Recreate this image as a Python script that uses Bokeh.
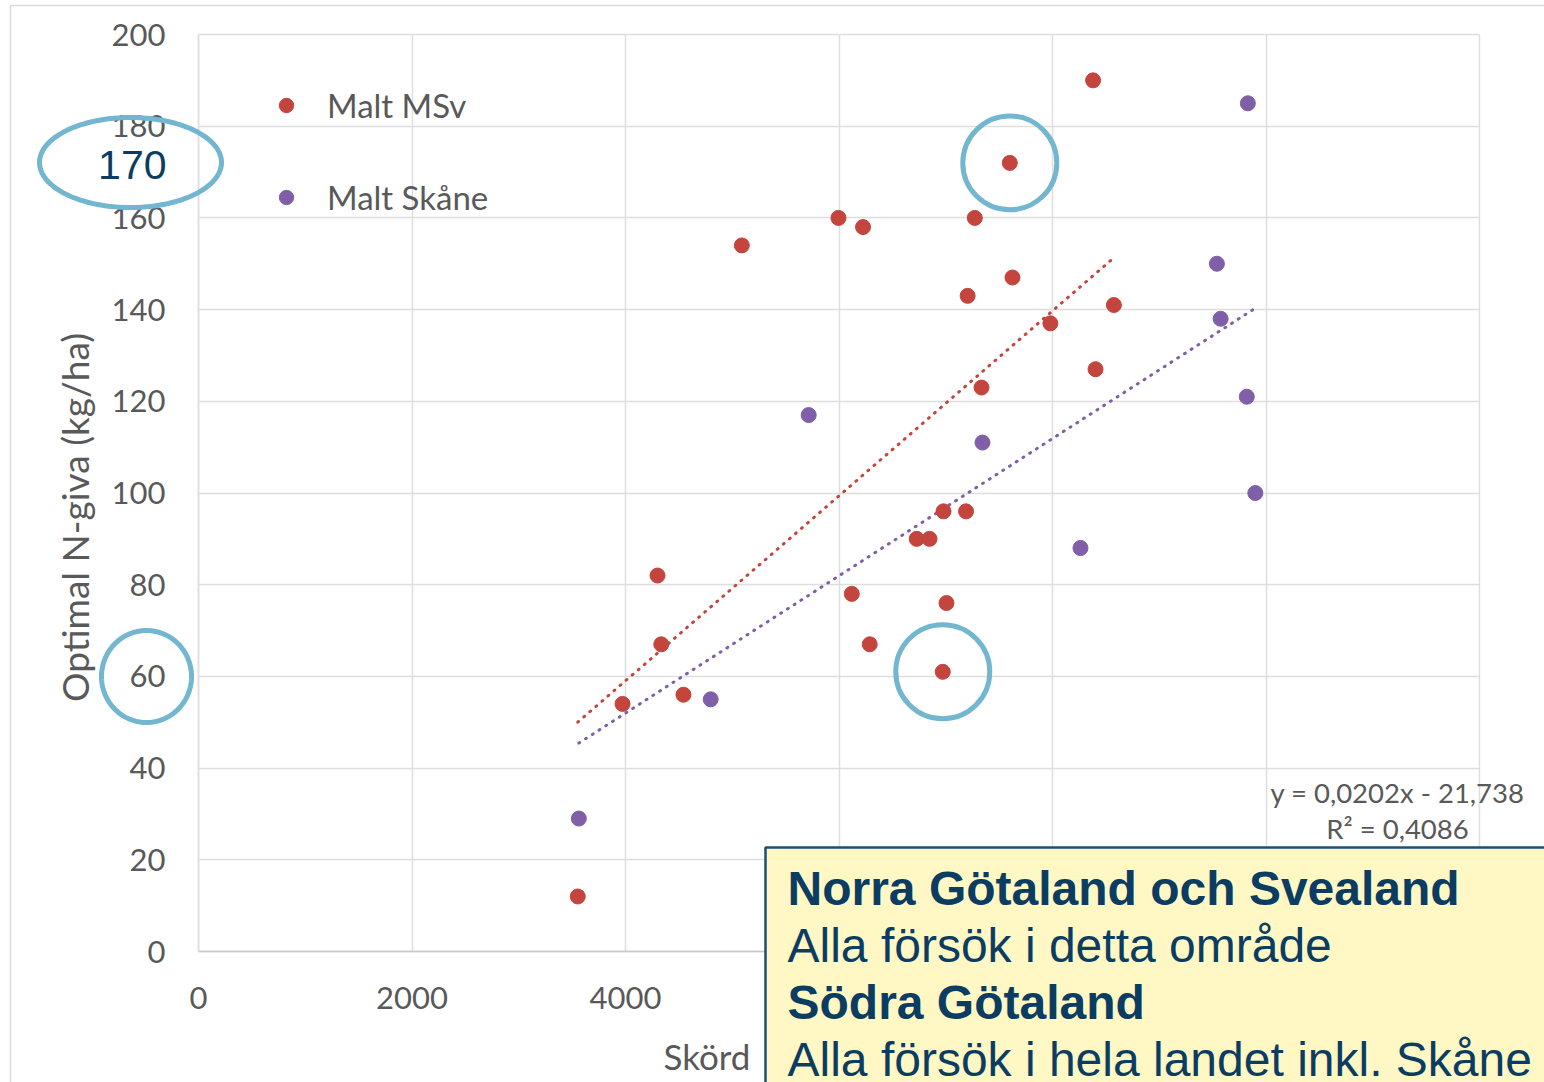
import numpy as np
from bokeh.plotting import figure
from bokeh.models import (Range1d, Label, BoxAnnotation, PolyAnnotation, Legend,
                          LegendItem, FixedTicker)
from bokeh.embed import file_html
from bokeh.resources import INLINE

# ---------------- data ----------------
x_ticks = [0, 2000, 4000, 6000, 8000, 10000, 12000]
y_ticks = [0, 20, 40, 60, 80, 100, 120, 140, 160, 180, 200]

msv_x = [8380, 7600, 5995, 6225, 5090, 7272, 7625, 7205, 8575, 7980, 7335, 8403, 6979,
         7190, 6728, 6848, 4300, 6120, 7007, 4335, 6288, 6972, 4543, 3972, 3553]
msv_y = [190, 172, 160, 158, 154, 160, 147, 143, 141, 137, 123, 127, 96,
         96, 90, 90, 82, 78, 76, 67, 67, 61, 56, 54, 12]

skane_x = [9830, 9540, 9575, 9820, 9900, 8262, 5716, 7344, 4798, 3563]
skane_y = [185, 150, 138, 121, 100, 88, 117, 111, 55, 29]

highlight_idx = [1, 21]          # circled MSv points (172 and 61)

series_names = ["Malt MSv", "Malt Skåne"]
y_title = "Optimal N-giva (kg/ha)"
x_title = "Skörd"
equation_lines = ["y = 0,0202x - 21,738", "R² = 0,4086"]
box_lines = [("Norra Götaland och Svealand", "bold"),
             ("Alla försök i detta område", "normal"),
             ("Södra Götaland", "bold"),
             ("Alla försök i hela landet inkl. Skåne", "normal")]

# ---------------- styling ----------------
RED = "#c4453e"
PURPLE = "#7e5fa8"
HL = "#72b6cf"
GRID = "#dedede"
TXT = "#595959"
NAVY = "#0b3d63"

W, H = 1544, 1082
# plot area in page pixels
PX0, PX1, PY0, PY1 = 198, 1479, 951, 34      # x=0, x=12000, y=0, y=200
XMAX, YMAX = 12000, 200
kx = (PX1 - PX0) / XMAX
ky = (PY0 - PY1) / YMAX

p = figure(width=W, height=H, output_backend="svg", toolbar_location=None,
           x_range=Range1d(-PX0 / kx, XMAX + (W - PX1) / kx),
           y_range=Range1d(-(H - PY0) / ky, YMAX + PY1 / ky),
           min_border=0)
p.outline_line_color = None
p.background_fill_color = "white"
p.border_fill_color = "white"

# axes drawn at fixed data locations inside the frame
p.xaxis.fixed_location = 0
p.yaxis.fixed_location = 0
p.xaxis.bounds = (0, XMAX)
p.yaxis.bounds = (0, YMAX)
p.xaxis.ticker = FixedTicker(ticks=x_ticks)
p.yaxis.ticker = FixedTicker(ticks=y_ticks)
for ax in (p.xaxis[0], p.yaxis[0]):
    ax.major_tick_line_color = None
    ax.minor_tick_line_color = None
    ax.major_label_text_font = "Lato"
    ax.major_label_text_font_size = "31px"
    ax.major_label_text_color = TXT
p.xaxis.axis_line_color = "#c8c8c8"
p.xaxis.axis_line_width = 1.5
p.yaxis.axis_line_color = GRID
p.yaxis.axis_line_width = 1.5
p.xaxis.major_label_standoff = 29
p.yaxis.major_label_standoff = 27

p.xgrid.ticker = FixedTicker(ticks=x_ticks)
p.ygrid.ticker = FixedTicker(ticks=y_ticks)
p.grid.grid_line_color = GRID
p.grid.grid_line_width = 1.5
p.xgrid.bounds = (0, XMAX)
p.ygrid.bounds = (0, YMAX)
p.xgrid.cross_bounds = (0, YMAX)
p.ygrid.cross_bounds = (0, XMAX)

def sx(px):   # page x -> screen x of frame
    return px

def sy(py):   # page y -> screen y of frame (upwards)
    return H - py

# outer chart-area border
p.add_layout(BoxAnnotation(left=sx(10), right=sx(3000), top=sy(5), bottom=sy(3000),
                           left_units="screen", right_units="screen",
                           top_units="screen", bottom_units="screen",
                           fill_alpha=0, line_color="#d9d9d9", line_alpha=1,
                           line_width=1.5, level="underlay"))

# ---------------- trend lines ----------------
for xs, ys, c in ((msv_x, msv_y, RED), (skane_x, skane_y, PURPLE)):
    k, b = np.polyfit(xs, ys, 1)
    xx = np.array([min(xs), max(xs)], dtype=float)
    p.line(xx, k * xx + b, line_color=c, line_width=3, line_dash="1 7",
           line_cap="round")

# ---------------- points ----------------
r1 = p.scatter(msv_x, msv_y, size=15, fill_color=RED, line_color=RED)
r2 = p.scatter(skane_x, skane_y, size=15, fill_color=PURPLE, line_color=PURPLE)

# highlight circles around two MSv points
p.scatter([msv_x[i] for i in highlight_idx], [msv_y[i] for i in highlight_idx],
          size=94, fill_color=None, line_color=HL, line_width=5)

legend = Legend(items=[LegendItem(label=series_names[0], renderers=[r1]),
                       LegendItem(label=series_names[1], renderers=[r2])],
                location=(sx(268), sy(217)), margin=0, padding=0,
                glyph_width=36, glyph_height=36, label_height=36,
                label_standoff=23, spacing=52,
                background_fill_alpha=0, border_line_color=None,
                label_text_font="Lato", label_text_font_size="33px",
                label_text_color=TXT)
p.add_layout(legend)

# ---------------- annotations ----------------
p.add_layout(Label(x=sx(74), y=sy(517), x_units="screen", y_units="screen",
                   text=y_title, angle=np.pi / 2,
                   text_align="center", text_baseline="middle",
                   text_font="Lato", text_font_size="37px", text_color=TXT))

p.add_layout(Label(x=sx(663), y=sy(1055), x_units="screen", y_units="screen",
                   text=x_title, text_align="left", text_baseline="middle",
                   text_font="Lato", text_font_size="35px", text_color=TXT))

p.add_layout(Label(x=sx(1397), y=sy(792), x_units="screen", y_units="screen",
                   text=equation_lines[0], text_align="center", text_baseline="middle",
                   text_font="Lato", text_font_size="27.5px", text_color=TXT))
p.add_layout(Label(x=sx(1397), y=sy(828), x_units="screen", y_units="screen",
                   text=equation_lines[1], text_align="center", text_baseline="middle",
                   text_font="Lato", text_font_size="27.5px", text_color=TXT))

p.add_layout(Label(x=sx(166), y=sy(164), x_units="screen", y_units="screen",
                   text="170", text_align="right", text_baseline="middle",
                   text_font="Liberation Sans", text_font_size="41px",
                   text_color=NAVY))

t = np.linspace(0, 2 * np.pi, 181)
for cx, cy, rx, ry in ((130, 162, 91, 45), (146, 676, 45, 46)):
    p.add_layout(PolyAnnotation(xs=list(sx(cx) + rx * np.cos(t)),
                                ys=list(sy(cy) + ry * np.sin(t)),
                                xs_units="screen", ys_units="screen",
                                fill_alpha=0, line_color=HL, line_alpha=1,
                                line_width=5))

p.add_layout(BoxAnnotation(left=sx(765), right=sx(3000), top=sy(847), bottom=sy(3000),
                           left_units="screen", right_units="screen",
                           top_units="screen", bottom_units="screen",
                           fill_color="#fff7c4", fill_alpha=1,
                           line_color="#1d4f74", line_alpha=1, line_width=2.5))
for (txt, style), cy in zip(box_lines, (888, 945, 1002, 1059)):
    p.add_layout(Label(x=sx(787), y=sy(cy), x_units="screen", y_units="screen",
                       text=txt, text_align="left", text_baseline="middle",
                       text_font="Liberation Sans", text_font_style=style,
                       text_font_size="48px", text_color=NAVY))

open("out.html", "w").write(file_html(p, INLINE))
